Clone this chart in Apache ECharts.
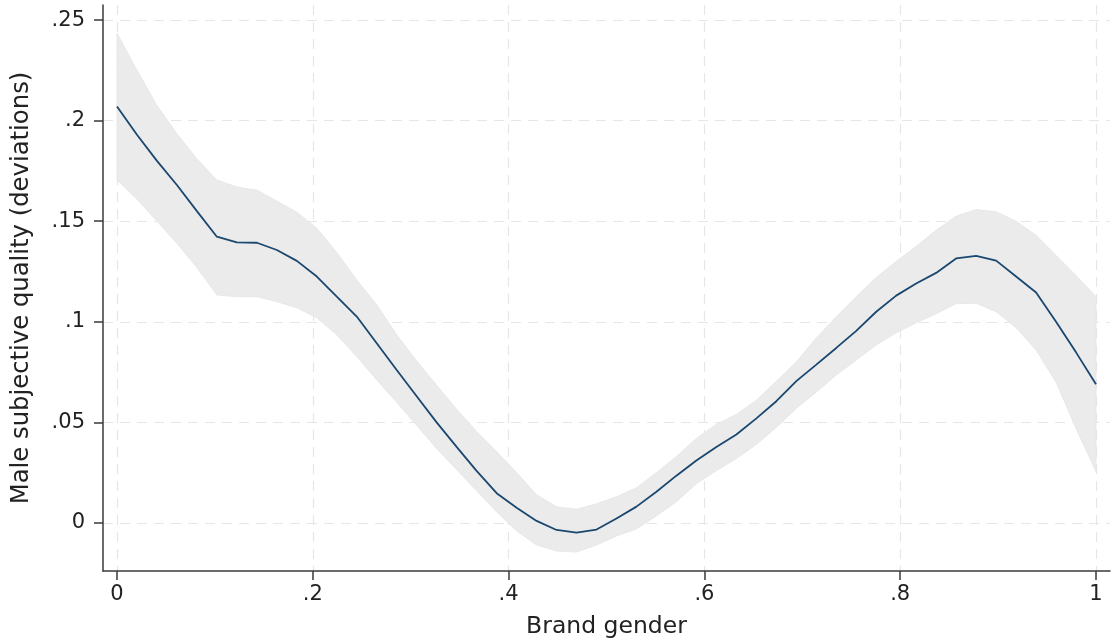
<!DOCTYPE html>
<html>
<head>
<meta charset="utf-8">
<script src="https://cdn.jsdelivr.net/npm/echarts@6/dist/echarts.min.js"></script>
<style>
html,body{margin:0;padding:0;background:#fff;}
#chart{width:1112px;height:644px;}
</style>
</head>
<body>
<div id="chart"></div>
<script>
// Brand gender (x) positions of the fitted points
var brandGender = [0.000,0.0204,0.0408,0.0612,0.0816,0.1020,0.1224,0.1429,0.1633,0.1837,
  0.2041,0.2245,0.2449,0.2653,0.2857,0.3061,0.3265,0.3469,0.3673,0.3878,
  0.4082,0.4286,0.4490,0.4694,0.4898,0.5102,0.5306,0.5510,0.5714,0.5918,
  0.6122,0.6327,0.6531,0.6735,0.6939,0.7143,0.7347,0.7551,0.7755,0.7959,
  0.8163,0.8367,0.8571,0.8776,0.8980,0.9184,0.9388,0.9592,0.9796,1.000];
// Fitted male subjective quality (deviations)
var fitValues = [0.207,0.193,0.180,0.168,0.155,0.1423,0.1395,0.1393,0.1357,0.1303,
  0.1225,0.1125,0.1026,0.0893,0.0760,0.0630,0.0500,0.0378,0.0259,0.0148,
  0.0075,0.0010,-0.0035,-0.0048,-0.0033,0.0022,0.0081,0.0155,0.0235,0.0310,
  0.0378,0.0440,0.0520,0.0605,0.0705,0.0787,0.0870,0.0955,0.1050,0.1130,
  0.1190,0.1243,0.1315,0.1328,0.1304,0.1225,0.1146,0.1000,0.0848,0.0689];
// Upper confidence bound
var upperCI = [0.2435,0.2251,0.2075,0.1935,0.1810,0.1705,0.1670,0.1655,0.1600,0.1545,
  0.1465,0.1345,0.1208,0.1085,0.0935,0.0805,0.0685,0.0565,0.0455,0.0355,
  0.0250,0.0140,0.0080,0.0068,0.0095,0.0130,0.0175,0.0250,0.0330,0.0420,
  0.0490,0.0540,0.0610,0.0705,0.0800,0.0920,0.1025,0.1125,0.1220,0.1300,
  0.1375,0.1455,0.1525,0.1558,0.1547,0.1500,0.1430,0.1330,0.1230,0.1125];
// Lower confidence bound
var lowerCI = [0.1705,0.1610,0.1500,0.1390,0.1270,0.1133,0.1125,0.1125,0.1100,0.1070,
  0.1020,0.0935,0.0827,0.0711,0.0600,0.0485,0.0370,0.0265,0.0160,0.0055,
  -0.0040,-0.0110,-0.0140,-0.0145,-0.0110,-0.0065,-0.0030,0.0035,0.0105,0.0195,
  0.0260,0.0320,0.0390,0.0475,0.0570,0.0650,0.0735,0.0810,0.0885,0.0945,
  0.0995,0.1040,0.1090,0.1092,0.1050,0.0970,0.0860,0.0700,0.0470,0.0255];
// Tick values
var xTicks = [0, 0.2, 0.4, 0.6, 0.8, 1];
var yTicks = [0, 0.05, 0.1, 0.15, 0.2, 0.25];

function fmt(v){
  if (v === 0) return '0';
  if (v === 1) return '1';
  return String(+v.toFixed(2)).replace(/^0\./, '.').replace(/^-0\./, '-.');
}

var fitData = brandGender.map(function(x,i){return [x, fitValues[i]];});

function renderBand(params, api){
  if (params.dataIndex !== 0) return null;
  var pts = [];
  for (var i = 0; i < brandGender.length; i++) pts.push(api.coord([brandGender[i], upperCI[i]]));
  for (var j = brandGender.length - 1; j >= 0; j--) pts.push(api.coord([brandGender[j], lowerCI[j]]));
  return {
    type:'polygon',
    shape:{points:pts},
    style:{fill:'#ebebeb', stroke:'#e4e4e4', lineWidth:0.8}
  };
}

var FONT = 'DejaVu Sans';
var chart = echarts.init(document.getElementById('chart'), null, {renderer:'canvas'});
chart.setOption({
  animation:false,
  backgroundColor:'#ffffff',
  textStyle:{fontFamily:FONT},
  grid:{left:103, right:2, top:5, bottom:73, outerBoundsMode:'none', containLabel:false},
  xAxis:{
    type:'value', min:-0.0143, max:1.0143,
    name:'Brand gender', nameLocation:'middle', nameGap:44,
    nameTextStyle:{fontFamily:FONT, fontSize:23.5, color:'#222'},
    axisLine:{show:true, onZero:false, lineStyle:{color:'#3a3a3a', width:1.5}},
    axisTick:{show:true, length:9, customValues:xTicks, lineStyle:{color:'#3a3a3a', width:1.5}},
    axisLabel:{customValues:xTicks, formatter:fmt, fontFamily:FONT, fontSize:21, color:'#222', margin:13},
    splitLine:{show:true, lineStyle:{color:'#e6e6e6', type:[10,7], width:1.2}}
  },
  yAxis:{
    type:'value', min:-0.0239, max:0.2575,
    name:'Male subjective quality (deviations)', nameLocation:'middle', nameGap:69,
    nameTextStyle:{fontFamily:FONT, fontSize:24.3, color:'#222'},
    axisLine:{show:true, onZero:false, lineStyle:{color:'#3a3a3a', width:1.5}},
    axisTick:{show:true, length:9, customValues:yTicks, lineStyle:{color:'#3a3a3a', width:1.5}},
    axisLabel:{customValues:yTicks, formatter:fmt, fontFamily:FONT, fontSize:21, color:'#222', margin:18},
    splitLine:{show:true, lineStyle:{color:'#e6e6e6', type:[10,7], width:1.2}}
  },
  series:[
    {type:'custom', name:'band', data:[[0,0]], renderItem:renderBand, silent:true, z:1,
     encode:{x:0, y:1}},
    {type:'line', name:'fit', data:fitData, symbol:'none',
     lineStyle:{color:'#1a476f', width:1.8}, z:3}
  ]
});
</script>
</body>
</html>
